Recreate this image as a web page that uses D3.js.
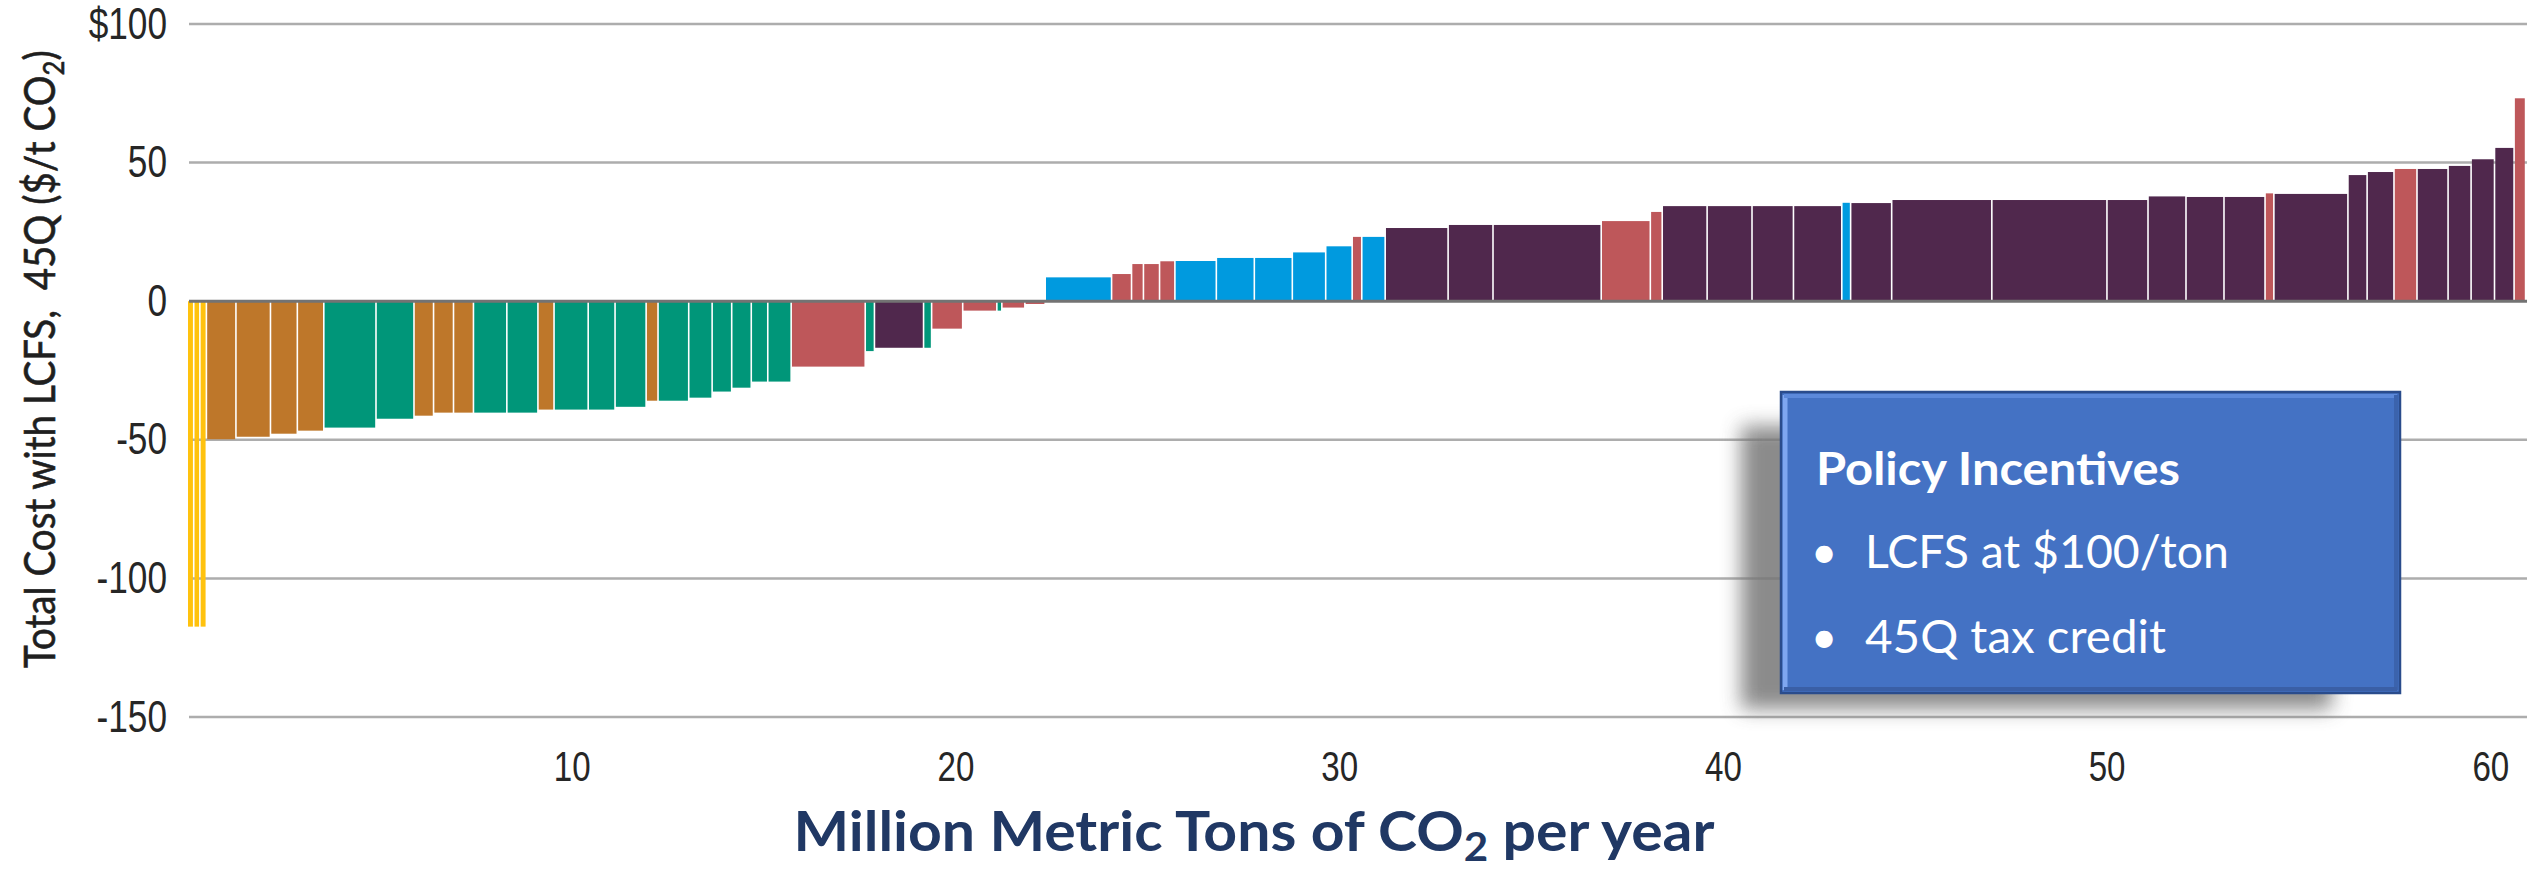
<!DOCTYPE html>
<html>
<head>
<meta charset="utf-8">
<script src="https://cdn.jsdelivr.net/npm/d3@7"></script>
<style>
  html, body { margin: 0; padding: 0; background: #ffffff; }
  svg { display: block; }
</style>
</head>
<body>
<svg id="chart" width="2539" height="872"></svg>
<script>
// Abatement projects, ordered by net cost (left to right).
// Sector code of each project (Y, O, G, R, P, B)
const sectors = [
  "Y","Y","Y","O","O","O","O","G","G","O",
  "O","O","G","G","O","G","G","G","O","G",
  "G","G","G","G","G","R","G","P","G","R",
  "R","G","R","R","B","R","R","R","R","B",
  "B","B","B","B","R","B","P","P","P","R",
  "R","P","P","P","P","B","P","P","P","P",
  "P","P","P","R","P","P","P","R","P","P",
  "P","P","R"
];
// Capture volume of each project, million metric tons CO2 per year
const capacity = [
  0.17, 0.16, 0.17, 0.77, 0.90, 0.70, 0.69, 1.36, 0.99, 0.51,
  0.52, 0.52, 0.87, 0.81, 0.42, 0.89, 0.70, 0.81, 0.31, 0.80,
  0.61, 0.51, 0.51, 0.43, 0.61, 1.93, 0.24, 1.28, 0.21, 0.81,
  0.89, 0.13, 0.60, 0.53, 1.73, 0.52, 0.31, 0.42, 0.40, 1.08,
  0.99, 0.99, 0.87, 0.69, 0.25, 0.61, 1.64, 1.17, 2.82, 1.28,
  0.31, 1.17, 1.17, 1.08, 1.26, 0.23, 1.07, 2.61, 3.00, 1.07,
  0.99, 0.99, 1.07, 0.23, 1.93, 0.50, 0.70, 0.60, 0.81, 0.60,
  0.61, 0.51, 0.30
];
// Total cost with LCFS and 45Q, $ per tonne CO2
const netCost = [
  -117.4, -117.4, -117.4, -49.8, -48.9, -47.8, -46.7, -45.6, -42.4, -41.3,
  -40.2, -40.2, -40.2, -40.2, -39.1, -39.1, -39.1, -38.1, -35.9, -35.9,
  -34.8, -32.6, -31.2, -29.0, -29.0, -23.6, -18.0, -16.8, -16.8, -9.9,
  -3.4, -3.4, -2.3, -1.0, 8.6, 9.8, 13.4, 13.4, 14.4, 14.5,
  15.6, 15.6, 17.6, 19.8, 23.2, 23.2, 26.4, 27.5, 27.5, 28.9,
  32.2, 34.3, 34.3, 34.3, 34.3, 35.5, 35.4, 36.5, 36.5, 36.5,
  37.8, 37.6, 37.6, 38.9, 38.7, 45.5, 46.6, 47.7, 47.7, 48.8,
  51.2, 55.3, 73.2
];
const yTicks = [100, 50, 0, -50, -100, -150];
const xTicks = [10, 20, 30, 40, 50, 60];
const legendTitle = "Policy Incentives";
const legendItems = ["LCFS at $100/ton", "45Q tax credit"];

const palette = {
  Y: "#FFC20E", O: "#BE772A", G: "#009679",
  R: "#BE575A", P: "#50284D", B: "#009ADF"
};

const svg = d3.select("#chart");

const x = d3.scaleLinear().domain([0, 60.93]).range([188, 2526]);
const y = d3.scaleLinear().domain([-150, 100]).range([717, 24]);
const plotLeft = 189, plotRight = 2527;

// cumulative start of every bar
const starts = [];
capacity.reduce((acc, w) => { starts.push(acc); return acc + w; }, 0);
const bars = capacity.map((w, i) => ({
  x0: starts[i], x1: starts[i] + w, v: netCost[i], s: sectors[i]
}));

// horizontal gridlines
svg.append("g").selectAll("line")
  .data(yTicks.filter(d => d !== 0))
  .join("line")
  .attr("x1", plotLeft).attr("x2", plotRight)
  .attr("y1", d => y(d)).attr("y2", d => y(d))
  .attr("stroke", "#ADADAD").attr("stroke-width", 2.5);

// variable-width bars
svg.append("g").selectAll("rect")
  .data(bars)
  .join("rect")
  .attr("x", d => x(d.x0))
  .attr("width", d => Math.max(1, x(d.x1) - x(d.x0) - 1.6))
  .attr("y", d => Math.min(y(0), y(d.v)))
  .attr("height", d => Math.abs(y(d.v) - y(0)))
  .attr("fill", d => palette[d.s]);

// zero line
svg.append("line")
  .attr("x1", plotLeft).attr("x2", plotRight)
  .attr("y1", y(0)).attr("y2", y(0))
  .attr("stroke", "#737373").attr("stroke-width", 3);

// y axis labels
const yAxis = svg.append("g")
  .attr("transform", `translate(${plotLeft},0)`)
  .call(d3.axisLeft(y).tickValues(yTicks).tickSize(0)
    .tickFormat(d => d === 100 ? "$100" : String(d)));
yAxis.select(".domain").remove();
yAxis.selectAll("text")
  .attr("x", 0)
  .attr("transform", "translate(-22,0) scale(0.8,1)")
  .attr("font-family", "'Liberation Sans', Arial, sans-serif")
  .attr("font-size", 44)
  .attr("fill", "#262626");

// x axis labels
const xAxis = svg.append("g")
  .attr("transform", "translate(0,781)")
  .call(d3.axisBottom(x).tickValues(xTicks).tickSize(0).tickFormat(String));
xAxis.select(".domain").remove();
xAxis.selectAll("text")
  .attr("y", 0).attr("dy", 0)
  .attr("transform", "scale(0.77,1)")
  .attr("font-family", "'Liberation Sans', Arial, sans-serif")
  .attr("font-size", 43)
  .attr("fill", "#262626");

// x axis title
const xt = svg.append("text")
  .attr("x", 1254).attr("y", 851)
  .attr("text-anchor", "middle")
  .attr("font-family", "Lato, 'Open Sans', sans-serif")
  .attr("font-weight", "bold")
  .attr("font-size", 56)
  .attr("fill", "#203864")
  .attr("textLength", 921)
  .attr("lengthAdjust", "spacingAndGlyphs");
xt.append("tspan").text("Million Metric Tons of CO");
xt.append("tspan").attr("font-size", 40).attr("dy", 10).text("2");
xt.append("tspan").attr("dy", -10).text(" per year");

// y axis title: rotated, fitted to its span along the axis
const yt = svg.append("text")
  .attr("font-family", "Lato, 'Open Sans', sans-serif")
  .attr("font-size", 42)
  .attr("fill", "#1f1f1f")
  .attr("stroke", "#1f1f1f").attr("stroke-width", 0.6)
  .style("white-space", "pre");
yt.append("tspan").text("Total Cost with LCFS,  45Q ($/t CO");
yt.append("tspan").attr("font-size", 28).attr("dy", 9).text("2");
yt.append("tspan").attr("dy", -9).text(")");
const ytBox = yt.node().getBBox();
const ytScale = 618 / ytBox.width;
const ytMid = ytBox.x + ytBox.width / 2;
yt.attr("transform",
  `translate(55,359) rotate(-90) scale(${ytScale},1) translate(${-ytMid},0)`);

// policy box
const defs = svg.append("defs");
defs.append("filter").attr("id", "soft")
  .attr("x", "-20%").attr("y", "-20%").attr("width", "140%").attr("height", "140%")
  .append("feGaussianBlur").attr("stdDeviation", 10);

const box = { x: 1781, y: 392, w: 619, h: 301 };
const lg = svg.append("g");
lg.append("rect")
  .attr("x", box.x - 40).attr("y", box.y + 34)
  .attr("width", box.w - 28).attr("height", box.h - 18)
  .attr("fill", "#777777").attr("opacity", 0.85)
  .attr("filter", "url(#soft)");
lg.append("rect")
  .attr("x", box.x).attr("y", box.y).attr("width", box.w).attr("height", box.h)
  .attr("fill", "#4472C4");
// bevel edges
lg.append("line").attr("x1", box.x + 4).attr("x2", box.x + 4)
  .attr("y1", box.y + 3).attr("y2", box.y + box.h - 3)
  .attr("stroke", "#7FA7F0").attr("stroke-width", 5);
lg.append("line").attr("x1", box.x + 3).attr("x2", box.x + box.w - 3)
  .attr("y1", box.y + 4).attr("y2", box.y + 4)
  .attr("stroke", "#5C89DA").attr("stroke-width", 4);
lg.append("line").attr("x1", box.x + box.w - 4).attr("x2", box.x + box.w - 4)
  .attr("y1", box.y + 3).attr("y2", box.y + box.h - 3)
  .attr("stroke", "#3B63AD").attr("stroke-width", 4);
lg.append("line").attr("x1", box.x + 3).attr("x2", box.x + box.w - 3)
  .attr("y1", box.y + box.h - 4).attr("y2", box.y + box.h - 4)
  .attr("stroke", "#3A5FA6").attr("stroke-width", 4);
lg.append("rect")
  .attr("x", box.x).attr("y", box.y).attr("width", box.w).attr("height", box.h)
  .attr("fill", "none").attr("stroke", "#2A4C8C").attr("stroke-width", 2.5);

lg.append("text")
  .attr("x", 1816).attr("y", 485)
  .attr("font-family", "Lato, 'Open Sans', sans-serif")
  .attr("font-weight", "bold").attr("font-size", 46)
  .attr("fill", "#ffffff")
  .attr("textLength", 364).attr("lengthAdjust", "spacingAndGlyphs")
  .text(legendTitle);

const itemLen = [364, 301];
legendItems.forEach((t, i) => {
  const by = 568 + i * 85;
  lg.append("text")
    .attr("x", 1824).attr("y", by)
    .attr("text-anchor", "middle")
    .attr("font-family", "Lato, 'Open Sans', sans-serif")
    .attr("font-size", 46).attr("fill", "#ffffff")
    .text("\u2022");
  lg.append("text")
    .attr("x", 1865).attr("y", by)
    .attr("font-family", "Lato, 'Open Sans', sans-serif")
    .attr("font-size", 46).attr("fill", "#ffffff")
    .attr("textLength", itemLen[i]).attr("lengthAdjust", "spacingAndGlyphs")
    .text(t);
});
</script>
</body>
</html>
